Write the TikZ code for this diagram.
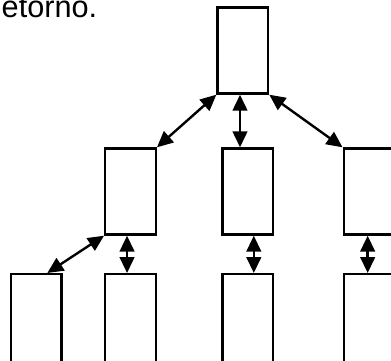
\documentclass[tikz,border=0pt]{standalone}
\usepackage{fontspec}
\setmainfont{Liberation Sans}
\usetikzlibrary{arrows.meta}
\tikzset{>={Triangle[length=12pt,width=11pt]}}
\tikzset{blk/.style={draw, line width=1.8pt, minimum width=37.9pt, minimum height=64.5pt, inner sep=0pt}}

\begin{document}
\begin{tikzpicture}[x=0.75pt, y=-0.75pt, line width=1.8pt]
\useasboundingbox (0,0) rectangle (391,360);
\clip (0,0) rectangle (391,360);
\node[anchor=base west, inner sep=0pt, font=\fontsize{23}{26}\selectfont] (txt) at (0.5,17.3) {etorno.};
\node[blk] (top) at (242.8,50.5) {};
\node[blk] (lft) at (130.5,191.5) {};
\node[blk] (mid) at (247.8,191.5) {};
\node[blk] (rgt) at (369,191.5) {};
% bottom row runs past the lower edge
\node[blk, anchor=north, minimum height=72pt] (b1) at (36.3,273) {};
\node[blk, anchor=north, minimum height=72pt] (b2) at (130.5,273) {};
\node[blk, anchor=north, minimum height=72pt] (b3) at (247.8,273) {};
\node[blk, anchor=north, minimum height=72pt] (b4) at (369,273) {};
\draw[<->] (top.south west) -- (lft.north east);
\draw[<->] ([xshift=-2.1pt]top.south) -- ([xshift=-2.1pt]top.south |- mid.north);
\draw[<->] (top.south east) -- (rgt.north west);
\draw[<->] (lft.south west) -- ([xshift=8.25pt]b1.north);
\draw[<->] ([xshift=-2.6pt]lft.south) -- ([xshift=-2.6pt]lft.south |- b2.north);
\draw[<->] ([xshift=4.5pt]mid.south) -- ([xshift=4.5pt]mid.south |- b3.north);
\draw[<->] ([xshift=-1pt]rgt.south) -- ([xshift=-1pt]rgt.south |- b4.north);
\end{tikzpicture}
\end{document}
